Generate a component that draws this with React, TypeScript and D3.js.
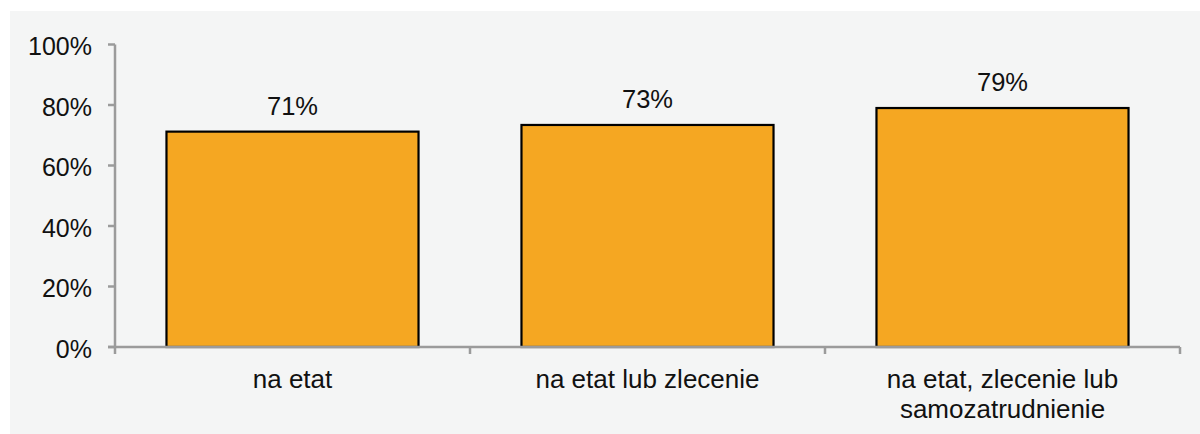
import React from "react";
import * as d3 from "d3";

const categories = [["na etat"], ["na etat lub zlecenie"], ["na etat, zlecenie lub", "samozatrudnienie"]];
const values = [0.712, 0.734, 0.79];
const yTicks = [0, 0.2, 0.4, 0.6, 0.8, 1];

const W = 1200;
const H = 434;
const font = "'Liberation Sans', Arial, sans-serif";

export default function App() {
  const left = 115,
    right = 1180,
    top = 44.5,
    bottom = 347;

  const x = d3
    .scaleBand<number>()
    .domain(d3.range(values.length))
    .range([left, right])
    .paddingInner(0.29)
    .paddingOuter(0.145);
  const y = d3.scaleLinear().domain([0, 1]).range([bottom, top]);
  const pct = d3.format(".0%");
  const step = (right - left) / values.length;

  return (
    <svg
      width={W}
      height={H}
      style={{ position: "absolute", left: 0, top: 0, display: "block" }}
      fontFamily={font}
    >
      <rect x={0} y={0} width={W} height={H} fill="#ffffff" />
      <rect x={10} y={11} width={W - 10} height={H - 11} fill="#f4f5f5" />

      {/* bars */}
      {values.map((v, i) => (
        <rect
          key={"b" + i}
          x={x(i)}
          y={y(v)}
          width={x.bandwidth()}
          height={y(0) - y(v)}
          fill="#f5a722"
          stroke="#000"
          strokeWidth={2.2}
        />
      ))}
      {values.map((v, i) => (
        <text
          key={"l" + i}
          x={(x(i) as number) + x.bandwidth() / 2}
          y={y(v) - 17}
          textAnchor="middle"
          fontSize={25.5}
          fill="#111"
        >
          {pct(v)}
        </text>
      ))}

      {/* y axis */}
      <line x1={left} x2={left} y1={top} y2={bottom} stroke="#9b9b9b" strokeWidth={2.5} />
      {yTicks.map((t) => (
        <g key={"t" + t}>
          <line x1={left - 7} x2={left} y1={y(t)} y2={y(t)} stroke="#9b9b9b" strokeWidth={2.5} />
          <text x={92} y={y(t) + 10.5} textAnchor="end" fontSize={25} fill="#111">
            {pct(t)}
          </text>
        </g>
      ))}

      {/* x axis */}
      <line x1={left - 7} x2={right} y1={bottom} y2={bottom} stroke="#9b9b9b" strokeWidth={2.5} />
      {d3.range(values.length + 1).map((i) => (
        <line
          key={"xt" + i}
          x1={left + i * step}
          x2={left + i * step}
          y1={bottom}
          y2={bottom + 7}
          stroke="#9b9b9b"
          strokeWidth={2.5}
        />
      ))}
      {categories.map((lines, i) => (
        <text
          key={"c" + i}
          x={(x(i) as number) + x.bandwidth() / 2}
          y={388}
          textAnchor="middle"
          fontSize={26}
          fill="#111"
        >
          {lines.map((s, j) => (
            <tspan key={j} x={(x(i) as number) + x.bandwidth() / 2} dy={j === 0 ? 0 : 30}>
              {s}
            </tspan>
          ))}
        </text>
      ))}
    </svg>
  );
}
